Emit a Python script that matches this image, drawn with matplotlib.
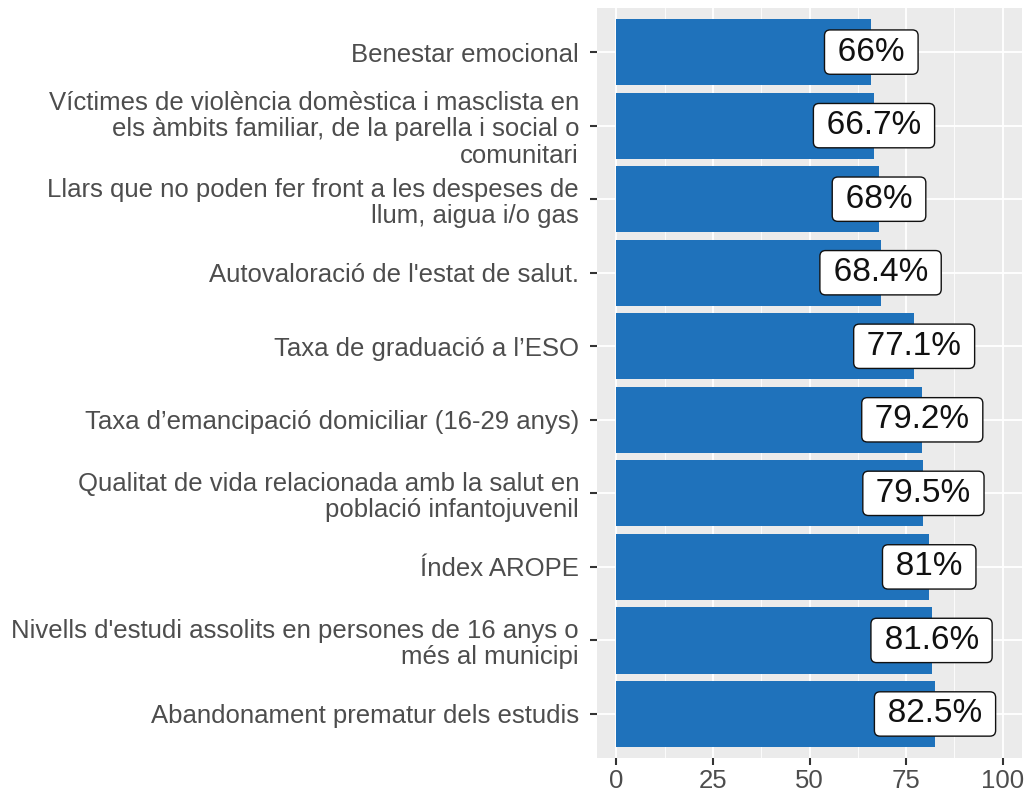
import matplotlib.pyplot as plt

plt.rcParams['font.family'] = ['Liberation Sans', 'DejaVu Sans']

# Indicators, top to bottom as in the chart
categories = [
    "Benestar emocional",
    "Víctimes de violència domèstica i masclista en\nels àmbits familiar, de la parella i social o\ncomunitari",
    "Llars que no poden fer front a les despeses de\nllum, aigua i/o gas",
    "Autovaloració de l'estat de salut.",
    "Taxa de graduació a l’ESO",
    "Taxa d’emancipació domiciliar (16-29 anys)",
    "Qualitat de vida relacionada amb la salut en\npoblació infantojuvenil",
    "Índex AROPE",
    "Nivells d'estudi assolits en persones de 16 anys o\nmés al municipi",
    "Abandonament prematur dels estudis",
]
values = [66, 66.7, 68, 68.4, 77.1, 79.2, 79.5, 81, 81.6, 82.5]
x_ticks = [0, 25, 50, 75, 100]

bar_color = '#1f72bb'
text_gray = '#4d4d4d'

fig = plt.figure(figsize=(10.26, 7.98), dpi=100)
ax = fig.add_axes([0.582, 0.050, 0.414, 0.940])

# first category at the top
pos = list(range(len(categories), 0, -1))

ax.set_facecolor('#ebebeb')
ax.set_axisbelow(True)
ax.set_xlim(-5, 105)
ax.set_ylim(0.4, len(categories) + 0.6)
ax.set_xticks(x_ticks)
ax.set_xticks([12.5, 37.5, 62.5, 87.5], minor=True)
ax.grid(which='major', color='white', linewidth=1.3)
ax.grid(which='minor', axis='x', color='white', linewidth=0.6)

ax.barh(pos, values, height=0.9, color=bar_color, zorder=2)

# value labels in white rounded boxes, centred on the bar end
for p, v in zip(pos, values):
    ax.text(v, p, f"\u2009{v:g}%\u2009", ha='center', va='center', fontsize=24,
            color='#111111', zorder=3,
            bbox=dict(boxstyle='round,pad=0.2,rounding_size=0.17', facecolor='white',
                      edgecolor='#111111', linewidth=1))

ax.set_yticks(pos)
ax.set_yticklabels(categories, fontsize=18.5, color=text_gray, ha='right',
                   multialignment='right', linespacing=1.12)
ax.tick_params(axis='x', labelsize=18.5, labelcolor=text_gray, color='#333333',
               length=5, width=1.5, pad=3)
ax.tick_params(axis='x', which='minor', length=0)
ax.tick_params(axis='y', color='#333333', length=5, width=1.5, pad=8)

for s in ax.spines.values():
    s.set_visible(False)

fig.savefig('out.png', dpi=100)
